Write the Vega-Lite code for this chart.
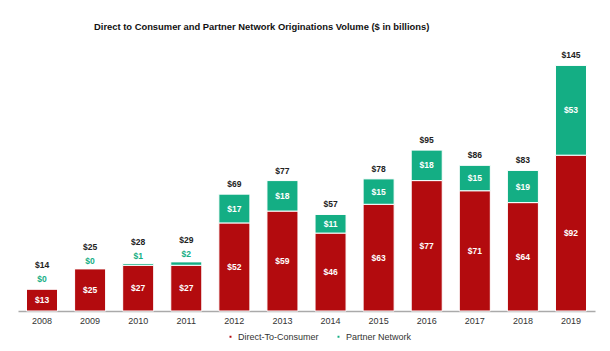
{
  "$schema": "https://vega.github.io/schema/vega-lite/v6.json",
  "width": 577,
  "height": 271,
  "autosize": {"type": "none"},
  "padding": {"left": 18, "top": 40, "right": 15, "bottom": 40},
  "background": "white",
  "config": {"view": {"stroke": null}, "font": "Liberation Sans"},
  "title": {
    "text": "Direct to Consumer and Partner Network Originations Volume ($ in billions)",
    "fontSize": 9.4,
    "font": "Liberation Sans",
    "fontWeight": "bold",
    "color": "#111",
    "anchor": "start",
    "frame": "group",
    "dx": 76,
    "offset": 8
  },
  "data": {
    "values": [
      {"year": "2008", "Direct-To-Consumer": 13, "Partner Network": 0, "total": 14},
      {"year": "2009", "Direct-To-Consumer": 25, "Partner Network": 0, "total": 25},
      {"year": "2010", "Direct-To-Consumer": 27, "Partner Network": 1, "total": 28},
      {"year": "2011", "Direct-To-Consumer": 27, "Partner Network": 2, "total": 29},
      {"year": "2012", "Direct-To-Consumer": 52, "Partner Network": 17, "total": 69},
      {"year": "2013", "Direct-To-Consumer": 59, "Partner Network": 18, "total": 77},
      {"year": "2014", "Direct-To-Consumer": 46, "Partner Network": 11, "total": 57},
      {"year": "2015", "Direct-To-Consumer": 63, "Partner Network": 15, "total": 78},
      {"year": "2016", "Direct-To-Consumer": 77, "Partner Network": 18, "total": 95},
      {"year": "2017", "Direct-To-Consumer": 71, "Partner Network": 15, "total": 86},
      {"year": "2018", "Direct-To-Consumer": 64, "Partner Network": 19, "total": 83},
      {"year": "2019", "Direct-To-Consumer": 92, "Partner Network": 53, "total": 145}
    ]
  },
  "encoding": {
    "x": {
      "field": "year",
      "type": "ordinal",
      "scale": {"paddingInner": 0.355, "paddingOuter": 0.177},
      "axis": {
        "title": null,
        "labelAngle": 0,
        "labelFontSize": 9,
        "labelColor": "#333",
        "labelPadding": 5,
        "ticks": false,
        "domainColor": "#aaa",
        "domainWidth": 1.5
      }
    }
  },
  "layer": [
    {
      "transform": [
        {"fold": ["Direct-To-Consumer", "Partner Network"], "as": ["series", "value"]},
        {"stack": "value", "groupby": ["year"], "sort": [{"field": "series", "order": "ascending"}], "as": ["y0", "y1"]}
      ],
      "layer": [
        {
          "mark": {"type": "bar", "stroke": "white", "strokeWidth": 1},
          "encoding": {
            "y": {"field": "y1", "type": "quantitative", "scale": {"domain": [0, 158]}, "axis": null},
            "y2": {"field": "y0"},
            "color": {
              "field": "series",
              "type": "nominal",
              "scale": {"domain": ["Direct-To-Consumer", "Partner Network"], "range": ["#B30B0E", "#14AE84"]},
              "legend": {
                "title": null,
                "orient": "none",
                "legendX": 208,
                "legendY": 292,
                "direction": "horizontal",
                "symbolType": "square",
                "symbolSize": 12,
                "labelFontSize": 9,
                "labelColor": "#333",
                "columnPadding": 14,
                "labelOffset": 3
              }
            }
          }
        },
        {
          "transform": [
            {"filter": "datum.value >= 5"},
            {"fold": ["y0", "y1"], "as": ["edge", "pos"]},
            {"aggregate": [{"op": "mean", "field": "pos", "as": "mid"}], "groupby": ["year", "series", "value"]}
          ],
          "mark": {"type": "text", "color": "white", "fontWeight": "bold", "fontSize": 8.5, "baseline": "middle"},
          "encoding": {
            "y": {"field": "mid", "type": "quantitative"},
            "text": {"field": "value", "type": "quantitative", "format": "$.0f"}
          }
        }
      ]
    },
    {
      "transform": [{"filter": "datum['Partner Network'] >= 5"}],
      "mark": {"type": "text", "color": "#222", "fontWeight": "bold", "fontSize": 8.5, "baseline": "middle", "dy": -10},
      "encoding": {
        "y": {"field": "total", "type": "quantitative"},
        "text": {"field": "total", "type": "quantitative", "format": "$.0f"}
      }
    },
    {
      "transform": [{"filter": "datum['Partner Network'] < 5"}],
      "mark": {"type": "text", "color": "#222", "fontWeight": "bold", "fontSize": 8.5, "baseline": "middle", "dy": -22},
      "encoding": {
        "y": {"field": "total", "type": "quantitative"},
        "text": {"field": "total", "type": "quantitative", "format": "$.0f"}
      }
    },
    {
      "transform": [{"filter": "datum['Partner Network'] < 5"}],
      "mark": {"type": "text", "color": "#14AE84", "fontWeight": "bold", "fontSize": 8.5, "baseline": "middle", "dy": -8},
      "encoding": {
        "y": {"field": "total", "type": "quantitative"},
        "text": {"field": "Partner Network", "type": "quantitative", "format": "$.0f"}
      }
    }
  ]
}
